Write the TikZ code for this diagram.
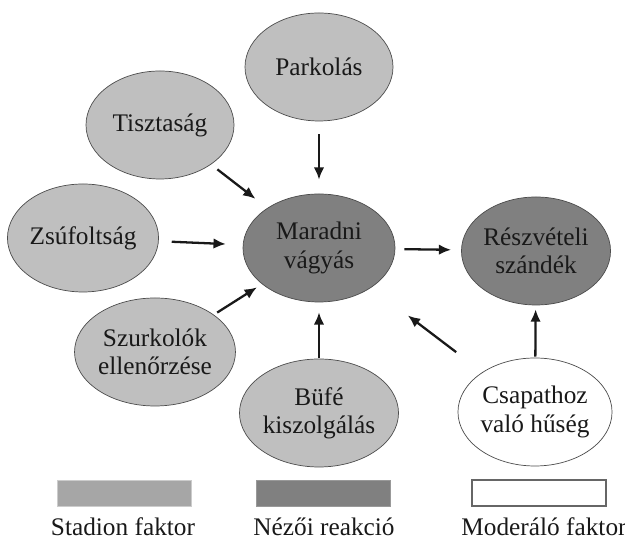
\documentclass[tikz,border=0pt]{standalone}
\usepackage{fontspec}
\setmainfont{Liberation Serif}
\usetikzlibrary{shapes.geometric,arrows.meta}

\begin{document}
\begin{tikzpicture}[
  factor/.style={ellipse,draw=black!70,minimum width=2.96cm,minimum height=2.16cm,inner sep=0pt,align=center,text=black!90,font=\fontsize{14.4}{16}\selectfont},
  stadion/.style={factor,fill=black!25},
  nezo/.style={factor,fill=black!50},
  moderalo/.style={factor,fill=white},
  legbox/.style={draw,minimum width=2.68cm,minimum height=0.52cm,inner sep=0pt},
  legtext/.style={anchor=base,text=black!90,font=\fontsize{14.4}{16}\selectfont},
  arr/.style={->,>={Latex[length=7pt,width=6pt]},line width=1.3pt,black!90}
]
\useasboundingbox (0,0) rectangle (12.5,10.78);
\node[stadion] (parkolas) at (6.38,9.44) {Parkolás};
\node[stadion] (tisztasag) at (3.20,8.28) {Tisztaság};
\node[stadion] (zsufoltsag) at (1.66,6.02) {Zsúfoltság};
\node[stadion] (szurkolok) at (3.10,3.74) {Szurkolók\\ ellenőrzése};
\node[stadion] (bufe) at (6.38,2.52) {Büfé\\ kiszolgálás};
\node[nezo,minimum width=3.04cm] (maradni) at (6.38,5.82) {Maradni\\ vágyás};
\node[nezo] (reszvetel) at (10.72,5.76) {Részvételi\\ szándék};
\node[moderalo] (csapat) at (10.70,2.54) {Csapathoz\\ való hűség};

\node[legbox,draw=black!20,fill=black!35] (legstadion) at (2.48,0.92) {};
\node[legbox,draw=black!40,fill=black!50] (legnezo) at (6.46,0.92) {};
\node[legbox,draw=black!60,fill=white,line width=0.8pt] (legmoderalo) at (10.78,0.92) {};
\node[legtext] (txtstadion) at (2.46,0.06) {Stadion faktor};
\node[legtext] (txtnezo) at (6.48,0.06) {Nézői reakció};
\node[legtext] (txtmoderalo) at (10.88,0.06) {Moderáló faktor};

\draw[arr,shorten <=0.26cm,shorten >=0.28cm] (parkolas) -- (maradni); \draw[arr,shorten <=0.16cm,shorten >=0.3cm] (tisztasag) -- (maradni); \draw[arr,shorten <=0.26cm,shorten >=0.34cm] (zsufoltsag) -- (maradni); \draw[arr,shorten <=0.08cm,shorten >=0.12cm] (szurkolok) -- (maradni); \draw[arr,shorten <=0.02cm,shorten >=0.2cm] (bufe) -- (maradni); \draw[arr,shorten <=0.18cm,shorten >=0.2cm] (maradni) -- (reszvetel); \draw[arr,shorten <=0.02cm,shorten >=0.08cm] (csapat) -- (reszvetel); \draw[arr,shorten <=0.66cm,shorten >=0.92cm] (csapat) -- (maradni);
\end{tikzpicture}
\end{document}
